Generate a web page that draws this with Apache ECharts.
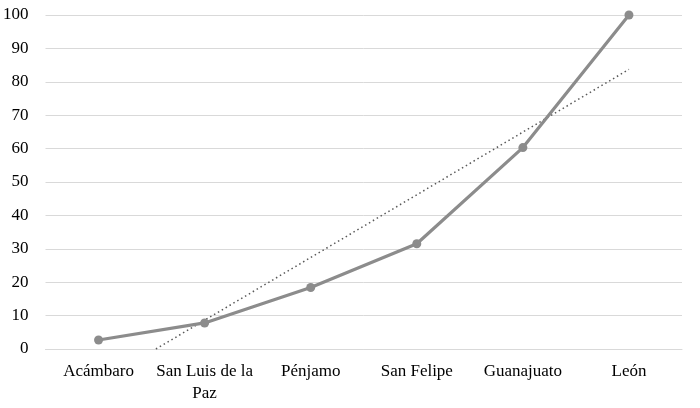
<!DOCTYPE html>
<html>
<head>
<meta charset="utf-8">
<script src="https://cdn.jsdelivr.net/npm/echarts@6/dist/echarts.min.js"></script>
<style>html,body{margin:0;padding:0;background:#fff}#c{width:700px;height:408px}</style>
</head>
<body>
<div id="c"></div>
<script>
var categories = ['Acámbaro', 'San Luis de la Paz', 'Pénjamo', 'San Felipe', 'Guanajuato', 'León'];
var values = [2.7, 7.8, 18.4, 31.5, 60.3, 100];
var yTicks = [0, 10, 20, 30, 40, 50, 60, 70, 80, 90, 100];

// linear trend line (least squares) on x = 1..n
var n = values.length;
var mx = 0, my = 0;
for (var i = 0; i < n; i++) { mx += (i + 1); my += values[i]; }
mx /= n; my /= n;
var sxy = 0, sxx = 0;
for (var i = 0; i < n; i++) { sxy += (i + 1 - mx) * (values[i] - my); sxx += (i + 1 - mx) * (i + 1 - mx); }
var slope = sxy / sxx, icpt = my - slope * mx;
var x0 = Math.max(1, -icpt / slope);
var trend = [[x0, icpt + slope * x0], [n, icpt + slope * n]];

var font = 'Liberation Serif';
var chart = echarts.init(document.getElementById('c'));
chart.setOption({
  animation: false,
  grid: { left: 45, right: 18, top: 15, bottom: 59 },
  xAxis: [{
    type: 'category',
    data: categories,
    boundaryGap: true,
    axisLine: { show: true, lineStyle: { color: '#d9d9d9', width: 1 } },
    axisTick: { show: false },
    axisLabel: {
      color: '#000', fontFamily: font, fontSize: 17, margin: 12, lineHeight: 22, interval: 0,
      formatter: function (v) { return v === 'San Luis de la Paz' ? 'San Luis de la\nPaz' : v; }
    }
  }, {
    type: 'value', min: 0.5, max: n + 0.5, show: false
  }],
  yAxis: {
    type: 'value', min: yTicks[0], max: yTicks[yTicks.length - 1], interval: 10,
    axisLine: { show: false }, axisTick: { show: false },
    splitLine: { lineStyle: { color: '#d9d9d9', width: 1 } },
    axisLabel: { color: '#000', fontFamily: font, fontSize: 17, margin: 17 }
  },
  series: [{
    type: 'line', xAxisIndex: 1, data: trend, symbol: 'none',
    lineStyle: { color: '#595959', width: 1.5, type: [1.5, 3] }, z: 1
  }, {
    type: 'line', data: values, symbol: 'circle', symbolSize: 9,
    itemStyle: { color: '#8c8c8c' },
    lineStyle: { color: '#8c8c8c', width: 3.2 }, z: 2
  }]
});
</script>
</body>
</html>
